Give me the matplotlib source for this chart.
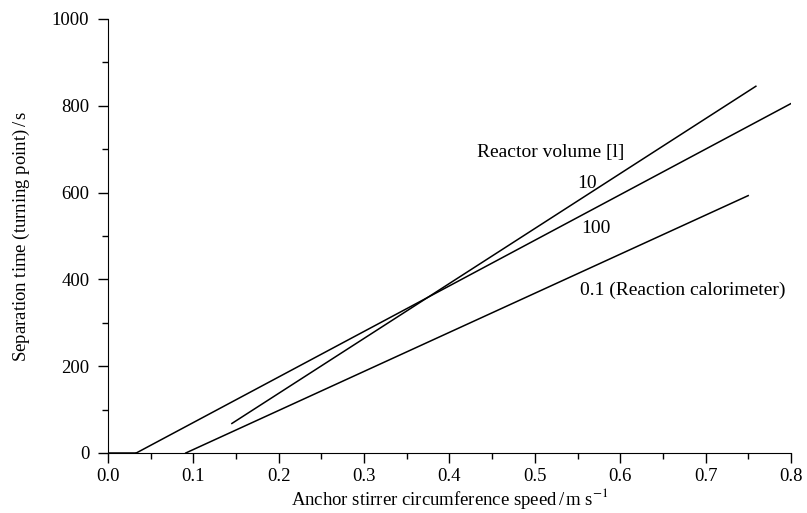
import matplotlib
matplotlib.use('Agg')
import matplotlib.pyplot as plt
from matplotlib.ticker import MultipleLocator

plt.rcParams['font.family'] = ['Liberation Serif', 'DejaVu Serif']
plt.rcParams['mathtext.fontset'] = 'stix'

# speed (m/s) vs separation time (s)
speed_100 = [0.033, 0.80]
time_100 = [0, 805]
speed_10 = [0.145, 0.759]
time_10 = [68, 845]
speed_01 = [0.091, 0.75]
time_01 = [0, 593]

fig = plt.figure(figsize=(8.07, 5.13), dpi=100)
ax = fig.add_axes([0.134, 0.117, 0.846, 0.846])

ax.plot([0, speed_100[0]], [0, 0], color='black', lw=1.1)
ax.plot(speed_100, time_100, color='black', lw=1.1)
ax.plot(speed_10, time_10, color='black', lw=1.1)
ax.plot(speed_01, time_01, color='black', lw=1.1)

ax.text(0.432, 693, 'Reactor volume [l]', fontsize=14, va='center')
ax.text(0.550, 620, '10', fontsize=14, va='center')
ax.text(0.554, 518, '100', fontsize=14, va='center')
ax.text(0.553, 375, '0.1 (Reaction calorimeter)', fontsize=14, va='center')

ax.set_xlim(0, 0.8)
ax.set_ylim(0, 1000)
ax.xaxis.set_major_locator(MultipleLocator(0.1))
ax.xaxis.set_minor_locator(MultipleLocator(0.05))
ax.yaxis.set_major_locator(MultipleLocator(200))
ax.yaxis.set_minor_locator(MultipleLocator(100))
ax.xaxis.set_major_formatter(lambda v, p: f'{v:.1f}')
ax.tick_params(which='major', length=7.5, width=1, labelsize=13.5)
ax.tick_params(axis='y', which='major', pad=6)
ax.tick_params(axis='x', which='major', pad=3)
ax.tick_params(which='minor', length=4, width=1)
ax.spines['top'].set_visible(False)
ax.spines['right'].set_visible(False)
ax.set_xlabel('Anchor stirrer circumference speed$\\,$/$\\,$m s$^{-1}$', fontsize=13.5, labelpad=1)
ax.set_ylabel('Separation time (turning point)$\\,$/$\\,$s', fontsize=13.5, labelpad=14)

fig.savefig('out.png', dpi=100)
